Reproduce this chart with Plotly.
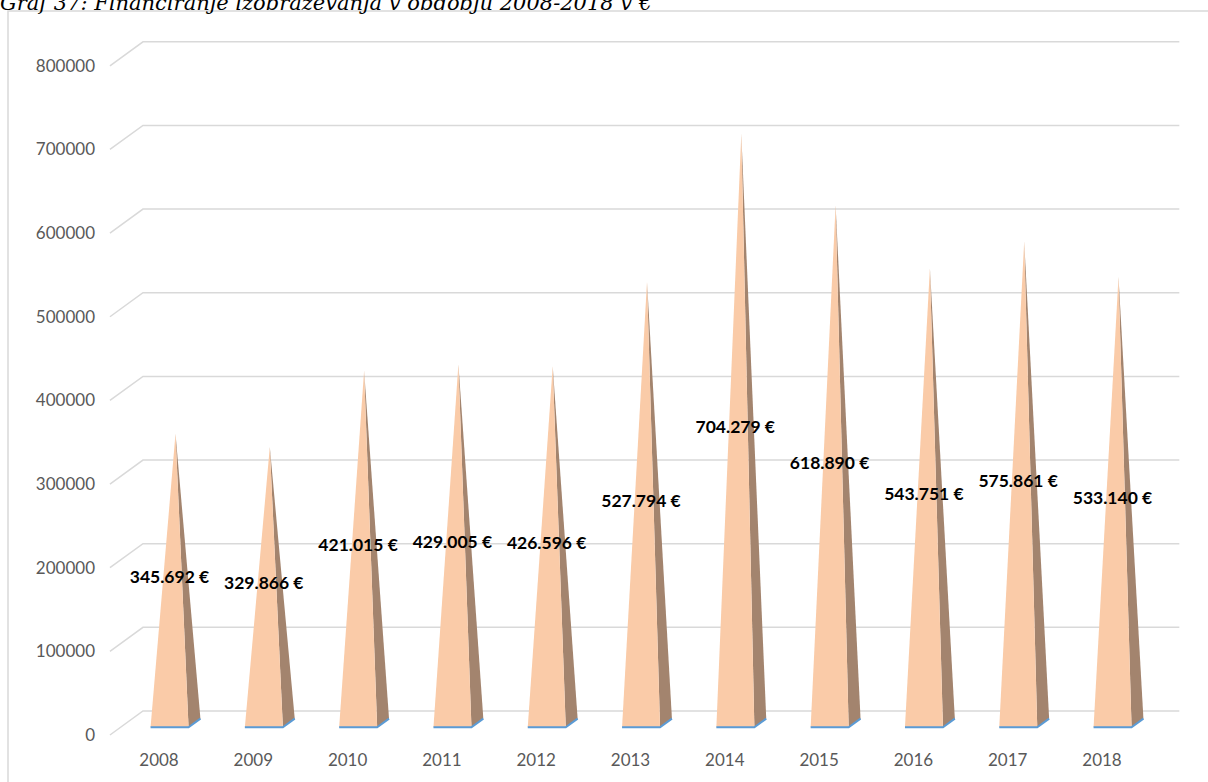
import plotly.graph_objects as go

# values
years = ['2008', '2009', '2010', '2011', '2012', '2013', '2014', '2015', '2016', '2017', '2018']
funding = [345692, 329866, 421015, 429005, 426596, 527794, 704279, 618890, 543751, 575861, 533140]
y_ticks = [0, 100000, 200000, 300000, 400000, 500000, 600000, 700000, 800000]
title_text = 'Graf 37: Financiranje izobraževanja v obdobju 2008-2018 v €'

# fake 3D: depth shift from front plane to back wall
PX = 83.65e-5            # pixels per euro
DX = 0.35                # depth shift in category units
DY = 24 / PX             # depth shift in value units
HW = 0.2015              # pyramid half width
HDX, HDY = 0.18 * DX, 0.18 * DY

FRONT = '#FACBA8'
SIDE = '#A3846E'
GRID = '#D9D9D9'


def euro(v):
    return f'{v:,}'.replace(',', '.') + ' €'


fig = go.Figure()

# back wall gridlines + diagonal side lines
for t in y_ticks:
    fig.add_trace(go.Scatter(
        x=[-0.52, -0.52 + DX, len(years) - 0.5 + DX - 0.03],
        y=[t, t + DY, t + DY],
        mode='lines', line=dict(color=GRID, width=1.5), hoverinfo='skip'))

# pyramids
for i, v in enumerate(funding):
    cx = i + DX / 2
    cy = DY / 2
    fl = (cx - HW - HDX, cy - HDY)
    fr = (cx + HW - HDX, cy - HDY)
    br = (cx + HW + HDX, cy + HDY)
    apex = (cx, cy + v)
    fig.add_trace(go.Scatter(
        x=[fr[0], br[0], apex[0], fr[0]], y=[fr[1], br[1], apex[1], fr[1]],
        fill='toself', fillcolor=SIDE, mode='lines', line=dict(width=0),
        hoverinfo='skip'))
    fig.add_trace(go.Scatter(
        x=[fl[0], fr[0], apex[0], fl[0]], y=[fl[1], fr[1], apex[1], fl[1]],
        fill='toself', fillcolor=FRONT, mode='lines', line=dict(width=0),
        hoverinfo='skip'))
    fig.add_trace(go.Scatter(
        x=[fl[0], fr[0], br[0]], y=[fl[1], fr[1], br[1]],
        mode='lines', line=dict(color='#5B9BD5', width=2), hoverinfo='skip'))

# data labels at half height
fig.add_trace(go.Scatter(
    x=[i + DX / 2 - 0.064 for i in range(len(years))],
    y=[DY / 2 + v / 2 for v in funding],
    mode='text', text=[euro(v) for v in funding],
    textfont=dict(family='Lato', size=17.5, color='black', weight='bold'),
    hoverinfo='skip'))

fig.update_xaxes(
    range=[(100 - 159) / 94.3, (1190 - 159) / 94.3],
    tickvals=list(range(len(years))), ticktext=years,
    showgrid=False, zeroline=False, showline=False, ticks='',
    tickfont=dict(family='Lato', size=17, color='#595959'))
fig.update_yaxes(
    range=[(735 - 748) / PX, (735 - 20) / PX],
    tickvals=y_ticks, ticktext=[str(t) for t in y_ticks],
    showgrid=False, zeroline=False, showline=False, ticks='',
    ticklabelstandoff=4,
    tickfont=dict(family='Lato', size=17, color='#595959'))

# chart frame (runs off the right and bottom edge like the reference)
fig.add_shape(type='rect', xref='paper', yref='paper',
              x0=(8 - 100) / 1090, x1=(1220 - 100) / 1090,
              y0=(748 - 800) / 728, y1=(748 - 11) / 728,
              line=dict(color=GRID, width=1.5), layer='below')

# caption, cropped at the top like the source
fig.add_annotation(text=title_text, xref='paper', yref='paper',
                   x=(-2 - 100) / 1090, y=(748 - 3) / 728,
                   xanchor='left', yanchor='middle', showarrow=False,
                   font=dict(family='DejaVu Serif', size=21, color='black',
                             style='italic'))

fig.update_layout(width=1208, height=782, showlegend=False,
                  margin=dict(l=100, r=18, t=20, b=34),
                  plot_bgcolor='white', paper_bgcolor='white')

# drop the default 8px body margin so the figure sits at the page corner
fig.write_html('out.html', config={'displayModeBar': False},
               post_script="document.body.style.margin='0px';")
